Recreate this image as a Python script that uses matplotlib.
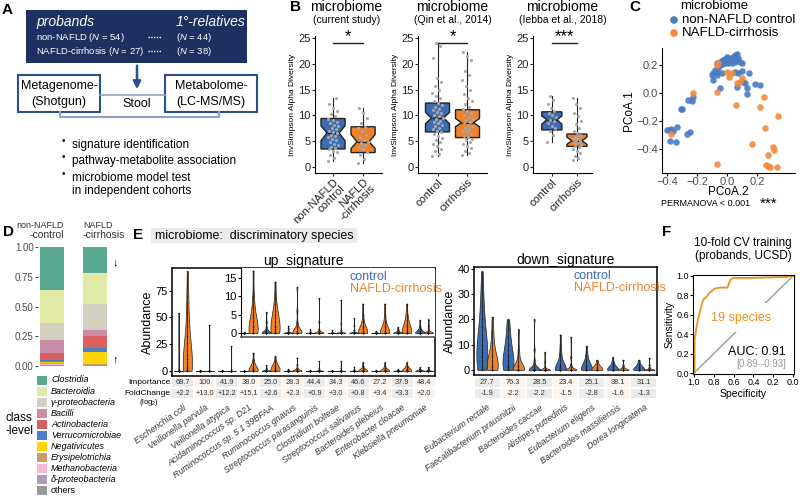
"""
Multi-panel microbiome figure (panels A-F)
"""

import numpy as np
import matplotlib
matplotlib.use("Agg")
import matplotlib.pyplot as plt
from matplotlib.patches import Rectangle

plt.rcParams["font.family"] = ["Liberation Sans", "DejaVu Sans"]
plt.rcParams["mathtext.fontset"] = "custom"
plt.rcParams["mathtext.rm"] = "Liberation Sans"
plt.rcParams["mathtext.it"] = "Liberation Sans:italic"

BLUE = "#3a6db5"
ORANGE = "#f0822a"
NAVY = "#1d3160"
GRID_BLUE = "#8fa2c5"

# ---------------- data ----------------
# A: cohort sizes
a_groups = ["non-NAFLD", "NAFLD-cirrhosis"]
a_proband_n = [54, 27]
a_relative_n = [44, 38]
a_bullets = ["signature identification", "pathway-metabolite association",
             "microbiome model test\nin independent cohorts"]

# B: alpha diversity box stats (q1, med, q3, whislo, whishi, notch lo, notch hi)
b_titles = ["(current study)", "(Qin et al., 2014)", "(Iebba et al., 2018)"]
b_xlabels = [["non-NAFLD\ncontrol", "NAFLD\n-cirrhosis"], ["control", "cirrhosis"], ["control", "cirrhosis"]]
b_sig = ["*", "*", "***"]
b_stats = [
    [(3.5, 6.6, 9.4, 1.2, 13.3, 5.1, 8.0), (2.8, 4.9, 7.8, 0.7, 11.4, 3.6, 6.3)],
    [(6.8, 9.5, 12.4, 2.2, 24.0, 8.4, 10.6), (5.7, 8.6, 11.1, 2.4, 22.3, 7.8, 9.4)],
    [(7.2, 9.2, 10.7, 4.9, 13.7, 8.3, 9.9), (4.0, 5.1, 6.4, 1.3, 13.3, 4.4, 5.8)],
]
b_points = [
    [[1.2, 1.8, 2.3, 2.9, 3.2, 3.5, 3.6, 3.9, 4.2, 4.5, 4.9, 5.2, 5.5, 5.8, 6.1, 6.3, 6.6,
      6.8, 7.0, 7.3, 7.6, 7.9, 8.2, 8.5, 8.8, 9.1, 9.4, 9.8, 10.3, 10.9, 11.5, 12.2, 13.3],
     [0.7, 1.5, 2.4, 3.0, 3.4, 3.9, 4.3, 4.6, 4.9, 5.3, 5.8, 6.2, 6.9, 7.5, 7.8, 8.6, 9.5,
      10.4, 11.4]],
    [[2.2, 2.6, 3.1, 3.5, 4.0, 4.4, 4.8, 5.2, 5.6, 6.0, 6.4, 6.8, 7.0, 7.3, 7.6, 7.9, 8.2,
      8.5, 8.8, 9.0, 9.3, 9.5, 9.8, 10.1, 10.4, 10.7, 11.0, 11.3, 11.7, 12.0, 12.4, 12.8,
      13.3, 13.8, 14.4, 15.0, 15.7, 16.4, 17.2, 21.2, 23.5, 24.0],
     [2.4, 2.8, 3.2, 3.6, 4.0, 4.4, 4.8, 5.2, 5.5, 5.8, 6.1, 6.4, 6.7, 7.0, 7.3, 7.6, 7.9,
      8.2, 8.5, 8.8, 9.1, 9.4, 9.7, 10.0, 10.4, 10.8, 11.2, 11.7, 12.2, 12.8, 13.4, 14.1,
      14.9, 15.8, 16.8, 17.8, 18.6, 20.8, 21.5, 22.3]],
    [[4.9, 6.2, 7.0, 7.5, 8.0, 8.5, 8.9, 9.2, 9.6, 10.0, 10.4, 10.8, 11.5, 12.3, 13.0, 13.7],
     [1.3, 1.8, 2.2, 2.7, 3.1, 3.5, 3.8, 4.1, 4.3, 4.6, 4.8, 5.0, 5.2, 5.4, 5.6, 5.9, 6.2,
      6.5, 7.0, 7.6, 8.3, 9.0, 9.8, 10.5, 11.4, 12.2, 13.3]],
]

# C: PCoA coordinates (PCoA.2, PCoA.1)
c_ctrl_pc2 = [-0.069, -0.047, -0.036, -0.024, -0.013, -0.002, 0.009, 0.020, 0.031, 0.042,
              0.053, 0.064, 0.076, 0.087, 0.098, 0.031, 0.009, -0.013, -0.024, -0.036,
              -0.002, 0.053, 0.064, -0.047, -0.058, -0.069, -0.080, -0.091, -0.102, -0.069,
              -0.036, 0.053, 0.076, 0.098, 0.149, 0.109, 0.120, 0.187, 0.220, -0.047, 0.064,
              0.131, 0.131, -0.096, -0.236, -0.258, -0.224, -0.298, -0.307, -0.402, -0.387,
              -0.373, -0.358, -0.336, -0.269, -0.247, -0.380, -0.342]
c_ctrl_pc1 = [0.212, 0.224, 0.231, 0.236, 0.240, 0.260, 0.248, 0.236, 0.248, 0.260,
              0.272, 0.279, 0.248, 0.224, 0.212, 0.212, 0.217, 0.217, 0.212, 0.207,
              0.231, 0.224, 0.236, 0.200, 0.176, 0.152, 0.164, 0.141, 0.129, 0.129,
              0.141, 0.152, 0.141, 0.160, 0.145, 0.081, 0.074, 0.064, 0.057, 0.033, 0.041,
              0.033, -0.007, 0.093, -0.057, -0.050, -0.031, -0.117, -0.114, -0.264, -0.264,
              -0.260, -0.269, -0.240, -0.293, -0.279, -0.341, -0.348]
c_cirr_pc2 = [-0.069, -0.058, -0.002, -0.069, 0.064, 0.087, 0.060, 0.220, 0.249, 0.338,
              0.253, 0.164, 0.309, 0.316, 0.271, -0.069, 0.258, 0.276, 0.287, 0.331,
              -0.224, -0.373, 0.031, 0.102, 0.013]
c_cirr_pc1 = [0.200, 0.217, 0.152, 0.010, 0.074, 0.081, -0.086, -0.097, -0.031, -0.164,
              -0.252, -0.367, -0.388, -0.407, -0.443, -0.507, -0.514, -0.521, -0.526, -0.531,
              -0.002, -0.293, 0.141, 0.105, 0.114]

# D: class-level composition (top to bottom in legend)
d_classes = ["Clostridia", "Bacteroidia", "γ-proteobacteria", "Bacilli", "Actinobacteria",
             "Verrucomicrobiae", "Negativicutes", "Erysipelotrichia", "Methanobacteria",
             "δ-proteobacteria", "others"]
d_colors = ["#5aa892", "#e2eba6", "#d3d0c0", "#c88ea5", "#d9605c", "#4a7fc6", "#ffd400",
            "#c99a6a", "#f5b9d6", "#b39bbd", "#999999"]
d_control = [0.36, 0.28, 0.14, 0.11, 0.06, 0.02, 0.005, 0.01, 0.005, 0.005, 0.005]
d_cirrhosis = [0.22, 0.26, 0.22, 0.05, 0.10, 0.03, 0.105, 0.005, 0.002, 0.003, 0.005]

# E: discriminatory species abundances
up_species = ["Escherichia coli", "Veillonella parvula", "Veillonella atypica",
              "Acidaminococcus sp. D21", "Ruminococcus sp. 5 1 39BFAA", "Ruminococcus gnavus",
              "Streptococcus parasanguinis", "Clostridium bolteae", "Streptococcus salivarius",
              "Bacteroides plebeius", "Enterobacter cloacae", "Klebsiella pneumoniae"]
up_importance = ["68.7", "100", "41.9", "38.0", "25.0", "28.3", "44.4", "34.3", "46.6",
                 "27.2", "37.9", "48.4"]
up_foldchange = ["+2.2", "+13.0", "+12.2", "+15.1", "+2.6", "+2.3", "+0.9", "+3.0", "+0.8",
                 "+3.4", "+3.3", "+2.0"]
up_ctrl = [
    [0, 0, 0, 0, 0, 0, 0, 0, 0, 0, 0.2, 0.5, 1.5, 54],
    [0, 0, 0, 0, 0, 0, 0, 0, 0, 0, 0, 0.1, 0.3, 0.6],
    [0, 0, 0, 0, 0, 0, 0, 0, 0, 0, 0, 0.1, 0.2, 0.5],
    [0, 0, 0, 0, 0, 0, 0, 0, 0, 0, 0, 0, 0.1, 0.3],
    [0, 0, 0, 0, 0, 0, 0, 0, 0.2, 0.4, 0.8, 1.5, 3, 5.7],
    [0, 0, 0, 0, 0, 0, 0, 0, 0, 0.1, 0.3, 0.8, 1.3, 2],
    [0, 0, 0, 0, 0, 0, 0, 0, 0, 0, 0.1, 0.2, 0.5, 1],
    [0, 0, 0, 0, 0, 0, 0, 0, 0, 0, 0.1, 0.2, 0.4, 0.8],
    [0, 0, 0, 0, 0, 0, 0, 0, 0, 0.1, 0.3, 0.8, 2, 4],
    [0, 0, 0, 0, 0, 0, 0, 0, 0, 0, 0.1, 0.2, 0.3, 0.5],
    [0, 0, 0, 0, 0, 0, 0, 0, 0.1, 0.2, 0.4, 0.7, 1, 1.6],
    [0, 0, 0, 0, 0, 0, 0, 0.1, 0.3, 0.5, 0.8, 1.2, 2, 3.5],
]
up_cirr = [
    [0, 0, 0.5, 1, 2, 3, 4, 6, 8, 11, 15, 20, 26, 33, 42, 55, 70, 93],
    [0, 0, 0, 0, 0, 0, 0, 0, 0, 0, 0.1, 0.3, 1, 43],
    [0, 0, 0, 0, 0, 0, 0, 0, 0, 0, 0.1, 0.5, 2, 23],
    [0, 0, 0, 0, 0.2, 0.5, 1, 1.5, 2, 3, 4, 5, 7, 10, 17],
    [0, 0, 0, 0.2, 0.5, 1, 1.5, 2, 3, 4, 5, 6, 8, 14],
    [0, 0, 0, 0, 0, 0, 0.1, 0.3, 0.6, 1, 1.5, 3, 6, 12.5],
    [0, 0, 0, 0, 0, 0, 0, 0, 0.1, 0.2, 0.5, 1, 3, 9.5],
    [0, 0, 0, 0, 0, 0, 0, 0, 0, 0.1, 0.3, 0.8, 2.5, 9],
    [0, 0, 0, 0, 0, 0.1, 0.3, 0.6, 1, 1.5, 2, 3, 5, 8],
    [0, 0, 0, 0, 0, 0.1, 0.3, 0.6, 1, 1.5, 2, 3, 5, 8],
    [0, 0, 0, 0, 0, 0.2, 0.5, 1, 1.5, 2, 2.5, 3.5, 5, 8],
    [0, 0, 0, 0, 0, 0, 0, 0, 0.1, 0.2, 0.5, 1, 2, 3.7],
]
down_species = ["Eubacterium rectale", "Faecalibacterium prausnitzii", "Bacteroides caccae",
                "Alistipes putredinis", "Eubacterium eligens", "Bacteroides massiliensis",
                "Dorea longicatena"]
down_importance = ["27.7", "76.3", "28.5", "23.4", "25.1", "38.1", "31.1"]
down_foldchange = ["-1.9", "-2.2", "-2.2", "-1.5", "-2.8", "-1.6", "-1.3"]
down_ctrl = [
    [0, 0.5, 1, 2, 3, 4, 5, 6, 7, 8, 10, 12, 14, 17, 20, 25, 30, 39],
    [0, 0.3, 0.6, 1, 1.5, 2, 3, 4, 5, 6, 8, 10, 13, 16, 20],
    [0, 0, 0, 0, 0, 0, 0, 0.1, 0.2, 0.5, 1, 2, 4, 8, 20],
    [0, 0, 0, 0, 0, 0.1, 0.3, 0.6, 1, 1.5, 2.5, 4, 6, 9, 14],
    [0, 0, 0, 0, 0.1, 0.3, 0.6, 1, 1.5, 2, 3, 4, 6, 9.5],
    [0, 0, 0, 0, 0, 0.1, 0.3, 0.6, 1, 1.5, 2, 3, 5],
    [0, 0, 0, 0, 0.1, 0.3, 0.5, 0.8, 1, 1.3, 1.8, 2.5, 4],
]
down_cirr = [
    [0, 0, 0, 0.2, 0.5, 1, 1.5, 2, 3, 4, 5, 6, 8, 11, 15, 21],
    [0, 0, 0, 0, 0, 0.2, 0.5, 1, 1.5, 2, 3, 5, 8, 16],
    [0, 0, 0, 0, 0, 0, 0, 0, 0.1, 0.3, 0.6, 1, 3, 7],
    [0, 0, 0, 0, 0, 0, 0, 0.1, 0.2, 0.5, 1, 2, 5, 13],
    [0, 0, 0, 0, 0.1, 0.3, 0.5, 0.8, 1, 1.3, 1.8, 2.5, 4],
    [0, 0, 0, 0, 0, 0, 0, 0.1, 0.3, 0.6, 1, 2, 4],
    [0, 0, 0, 0, 0, 0, 0, 0, 0.1, 0.2, 0.5, 1, 2, 4.8],
]

# F: ROC curve
f_specificity = [1.0, 0.994, 0.994, 0.974, 0.952, 0.926, 0.903, 0.871, 0.839, 0.79, 0.742,
                 0.661, 0.645, 0.623, 0.597, 0.403, 0.081, 0.0]
f_sensitivity = [0.0, 0.0, 0.34, 0.48, 0.58, 0.69, 0.76, 0.79, 0.83, 0.87, 0.88,
                 0.88, 0.93, 0.97, 0.98, 0.98, 0.99, 1.0]

# ---------------- layout helpers ----------------
W, H = 800, 504
fig = plt.figure(figsize=(W / 100, H / 100), dpi=100)


def px_axes(x0, y0, x1, y1):
    """Axes placed by pixel box (top-left origin)"""
    ax = fig.add_axes([x0 / W, 1 - y1 / H, (x1 - x0) / W, (y1 - y0) / H])
    ax.patch.set_alpha(0)
    return ax


# overlay in pixel coordinates, drawn above all panels
ov = fig.add_axes([0, 0, 1, 1])
ov.set_xlim(0, W)
ov.set_ylim(H, 0)
ov.axis("off")
ov.set_zorder(10)

for letter, x, y in [("A", 2, 10), ("B", 290, 7), ("C", 629, 7), ("D", 3, 232),
                     ("E", 133, 235), ("F", 662, 232)]:
    ov.text(x, y, letter, fontsize=11, fontweight="bold", va="center")

# ---------------- A ----------------
ov.add_patch(Rectangle((26, 10), 221, 53, facecolor=NAVY, edgecolor="none"))
ov.text(36, 22, "probands", color="white", style="italic", fontsize=10, va="center")
ov.text(176, 22, "1°-relatives", color="white", style="italic", fontsize=10, va="center")
for y, grp, n1, n2 in zip([37, 51], a_groups, a_proband_n, a_relative_n):
    ov.text(36, y, f"{grp} ($N$ = {n1})", color="white", fontsize=6.8, va="center")
    ov.plot([148, 161], [y, y], ls=(0, (1, 1)), color="white", lw=1)
    ov.text(176, y, f"($N$ = {n2})", color="white", fontsize=6.8, va="center")
ov.annotate("", xy=(137, 92), xytext=(137, 63),
            arrowprops=dict(arrowstyle="-|>", color="#2b4f91", lw=1.8, mutation_scale=11))
ov.plot([100, 165], [95, 95], color=GRID_BLUE, lw=1.2)
ov.plot([60, 60, 219, 219], [112, 117, 117, 112], color=GRID_BLUE, lw=1.5)
for x0, x1, l1, l2 in [(18, 100, "Metagenome-", "(Shotgun)"), (165, 257, "Metabolome-", "(LC-MS/MS)")]:
    ov.add_patch(Rectangle((x0, 75), x1 - x0, 37, facecolor="white", edgecolor="#2b4f91", lw=1.5))
    ov.text((x0 + x1) / 2, 86, l1, fontsize=9, ha="center", va="center")
    ov.text((x0 + x1) / 2, 102, l2, fontsize=9, ha="center", va="center")
ov.text(137, 104, "Stool", fontsize=9, ha="center", va="center")
for y, txt in zip([141, 157, 174], a_bullets):
    ov.text(62, y, "•", fontsize=7, va="center")
    ov.text(72, y - 2, txt, fontsize=8.5, va="top", linespacing=1.1)

# ---------------- B ----------------
b_boxes = [(315, 382), (418, 487), (533, 592)]
b_xlims = [(0.4, 2.63), (0.35, 2.65), (0.25, 2.6)]
for i, ((x0, x1), stats, pts) in enumerate(zip(b_boxes, b_stats, b_points)):
    ax = px_axes(x0, 36, x1, 173)
    bstats = [dict(q1=s[0], med=s[1], q3=s[2], whislo=s[3], whishi=s[4], cilo=s[5],
                   cihi=s[6], fliers=[]) for s in stats]
    res = ax.bxp(bstats, positions=[1, 2], widths=0.8, shownotches=True, showcaps=False,
                 showfliers=False, patch_artist=True,
                 medianprops=dict(color="#222222", lw=1),
                 whiskerprops=dict(color="#222222", lw=0.8),
                 boxprops=dict(edgecolor="#222222", lw=1))
    for patch, col in zip(res["boxes"], [BLUE, ORANGE]):
        patch.set_facecolor(col)
    for k, vals in enumerate(pts):
        n = len(vals)
        offs = ((np.arange(n) * 0.618) % 1 - 0.5) * 0.35
        ax.scatter(k + 1 + offs, vals, s=5, color="#a8a8a8", lw=0, zorder=3)
    ax.plot([1, 2], [24.0, 24.0], color="#222222", lw=1, clip_on=False)
    ax.text(1.5, 23.8, b_sig[i], ha="center", va="bottom", fontsize=12, clip_on=False)
    ax.set_xlim(*b_xlims[i])
    ax.set_ylim(-1.16, 25.4)
    ax.set_yticks([0, 5, 10, 15, 20, 25])
    ax.set_xticks([1, 2])
    ax.set_xticklabels(b_xlabels[i], rotation=45, ha="right", rotation_mode="anchor",
                       fontsize=8, linespacing=0.9)
    ax.tick_params(labelsize=8, length=2, pad=1, colors="#222222")
    ax.set_ylabel("InvSimpson Alpha Diversity", fontsize=6, labelpad=2)
    for sp in ["top", "right"]:
        ax.spines[sp].set_visible(False)
    cx = (x0 + x1) / 2 + (0 if i else -2)
    ov.text(cx, 7, "microbiome", fontsize=10, ha="center", va="center")
    ov.text(cx, 20, b_titles[i], fontsize=7.5, ha="center", va="center")

# ---------------- C ----------------
ax = px_axes(662, 48, 795, 173)
ax.scatter(c_ctrl_pc2, c_ctrl_pc1, s=22, color="#4a7bc3", alpha=0.9, lw=0)
ax.scatter(c_cirr_pc2, c_cirr_pc1, s=22, color="#f28a3c", alpha=0.9, lw=0)
ax.set_xlim(-0.433, 0.453)
ax.set_ylim(-0.571, 0.321)
ax.set_xticks([-0.4, -0.2, 0.0, 0.2])
ax.set_yticks([-0.4, -0.2, 0.0, 0.2])
ax.set_xticklabels(["−0.4", "−0.2", "0.0", "0.2"])
ax.set_yticklabels(["−0.4", "−0.2", "0.0", "0.2"])
ax.tick_params(labelsize=8, length=2, pad=1, labelcolor="#4d4d4d")
ax.set_xlabel("PCoA.2", fontsize=8.5, labelpad=-1)
ax.set_ylabel("PCoA.1", fontsize=8.5, labelpad=1)
for sp in ["top", "right"]:
    ax.spines[sp].set_visible(False)
ov.text(680, 6, "microbiome", fontsize=9.5, va="center")
ov.scatter([674, 674], [20, 33], s=30, color=["#4a7bc3", "#f28a3c"], lw=0)
ov.text(682, 20, "non-NAFLD control", fontsize=9.5, va="center")
ov.text(682, 33, "NAFLD-cirrhosis", fontsize=9.5, va="center")
ov.text(661, 203, "PERMANOVA < 0.001", fontsize=6.5, va="center")
ov.text(769, 204, "***", fontsize=11, va="center", ha="center")

# ---------------- D ----------------
ax = px_axes(38, 245, 112, 367)
bottom_c, bottom_k = 0.0, 0.0
for cls, col, vc, vk in reversed(list(zip(d_classes, d_colors, d_control, d_cirrhosis))):
    ax.bar([1, 2], [vc, vk], bottom=[bottom_c, bottom_k], width=0.56, color=col, lw=0)
    bottom_c += vc
    bottom_k += vk
ax.set_xlim(0.674, 2.395)
ax.set_ylim(-0.008, 1.017)
ax.set_yticks([0, 0.25, 0.5, 0.75, 1.0])
ax.set_yticklabels(["0.00", "0.25", "0.50", "0.75", "1.00"])
ax.set_xticks([])
ax.tick_params(labelsize=7, length=2, pad=1, labelcolor="#4d4d4d", color="#4d4d4d")
for sp in ax.spines.values():
    sp.set_visible(False)
ov.text(64, 226, "non-NAFLD", fontsize=6.5, ha="right", va="center", color="#333333")
ov.text(64, 235, "-control", fontsize=7.5, ha="right", va="center", color="#333333")
ov.text(83, 226, "NAFLD", fontsize=6.5, ha="left", va="center", color="#333333")
ov.text(83, 235, "-cirrhosis", fontsize=7.5, ha="left", va="center", color="#333333")
ov.text(115, 262, "↓", fontsize=8, ha="center", va="center")
ov.text(115, 359, "↑", fontsize=8, ha="center", va="center")
for k, (cls, col) in enumerate(zip(d_classes, d_colors)):
    y = 380 + k * 11.07
    ov.add_patch(Rectangle((37, y - 4.5), 10, 9, facecolor=col, edgecolor="none"))
    ov.text(51, y, cls, fontsize=6.5, va="center",
            style="normal" if cls == "others" else "italic")
ov.text(5, 418, "class", fontsize=8.5, va="center")
ov.text(5, 431, "-level", fontsize=8.5, va="center")

# ---------------- E ----------------
ov.add_patch(Rectangle((151, 228), 206, 15, facecolor="#ebebeb", edgecolor="none"))
ov.text(155, 235.5, "microbiome:  discriminatory species", fontsize=9, va="center")


def nrd0_factor(kde):
    """Smoothed Silverman-style bandwidth, returned as a factor of the sd"""
    x = np.ravel(kde.dataset)
    sd = x.std(ddof=1)
    iqr = np.subtract(*np.percentile(x, [75, 25]))
    lo = min(sd, iqr / 1.34) if iqr > 0 else 0.1 * sd
    return 1.6 * 0.9 * lo * len(x) ** -0.2 / sd


def draw_violins(ax, ctrl, cirr):
    """Paired violins with a column of points for each group"""
    pos = np.arange(1, len(ctrl) + 1)
    for data, off, col in ((ctrl, -0.2, BLUE), (cirr, 0.2, ORANGE)):
        parts = ax.violinplot(data, positions=pos + off, widths=0.42, showextrema=False,
                              bw_method=nrd0_factor, points=200)
        for body in parts["bodies"]:
            body.set_facecolor(col)
            body.set_edgecolor("#222222")
            body.set_linewidth(0.5)
            body.set_alpha(1)
        for p, d in zip(pos + off, data):
            ax.vlines(p, min(d), max(d), color="#222222", lw=0.7, alpha=0.85)
            ax.scatter(np.full(len(d), p), d, s=1.5, color="black", lw=0, alpha=0.5)


def draw_table(x0, x1, importance, foldchange, names):
    tab = px_axes(x0, 377, x1, 399)
    n = len(importance)
    tab.set_xlim(0.5, n + 0.5)
    tab.set_ylim(2, 0)
    for k in range(n):
        col = "#ebebeb" if k % 2 == 0 else "#fcf4ef"
        for r, txt in enumerate([importance[k], foldchange[k]]):
            tab.add_patch(Rectangle((k + 0.52, r + 0.05), 0.96, 0.9, facecolor=col, lw=0))
            tab.text(k + 1, r + 0.5, txt, fontsize=5.3, ha="center", va="center",
                     color="#333333")
    tab.set_xticks(np.arange(1, n + 1))
    tab.set_xticklabels(names, rotation=35, ha="right", rotation_mode="anchor",
                        fontsize=6.3, style="italic", color="#333333")
    tab.set_yticks([])
    tab.tick_params(length=0, pad=3)
    for sp in tab.spines.values():
        sp.set_visible(False)
    return tab


# up signature
ax = px_axes(172, 268, 435, 376)
draw_violins(ax, up_ctrl, up_cirr)
ax.set_xlim(0.5, 12.5)
ax.set_ylim(-4.7, 96)
ax.set_yticks([0, 25, 50, 75])
ax.set_xticks([])
ax.tick_params(labelsize=8, length=2, pad=1)
ax.set_ylabel("Abundance", fontsize=9, labelpad=1)
ax.set_title("up_signature", fontsize=10, pad=2)
for sp in ax.spines.values():
    sp.set_linewidth(1.1)

ins = px_axes(241, 268, 435, 337)
ins.patch.set_alpha(1)
ins.set_facecolor("white")
draw_violins(ins, up_ctrl, up_cirr)
ins.set_xlim(0.5 + 69 / 21.917, 12.5)
ins.set_ylim(-1.09, 17.7)
ins.set_yticks([0, 5, 10, 15])
ins.set_xticks([])
ins.tick_params(labelsize=8, length=2, pad=1)
for sp in ["top", "right"]:
    ins.spines[sp].set_visible(False)
ins.spines["bottom"].set_color("#555555")
ins.spines["bottom"].set_linewidth(1.2)
ov.text(350, 277, "control", color=BLUE, fontsize=9, va="center")
ov.text(350, 289, "NAFLD-cirrhosis", color=ORANGE, fontsize=9, va="center")

tab = draw_table(172, 435, up_importance, up_foldchange, up_species)
tab.text(0.42, 0.5, "Importance", fontsize=6, ha="right", va="center")
tab.text(0.42, 1.5, "FoldChange", fontsize=6, ha="right", va="center")
tab.text(-0.55, 2.35, "(log$_2$)", fontsize=5.5, ha="center", va="center")

# down signature
ax = px_axes(474, 267, 657, 375)
draw_violins(ax, down_ctrl, down_cirr)
ax.set_xlim(0.5, 7.5)
ax.set_ylim(-2, 40.7)
ax.set_yticks([0, 10, 20, 30, 40])
ax.set_xticks([])
ax.tick_params(labelsize=8, length=2, pad=1)
ax.set_ylabel("Abundance", fontsize=9, labelpad=1)
ax.set_title("down_signature", fontsize=10, pad=2)
for sp in ax.spines.values():
    sp.set_linewidth(1.1)
ov.text(574, 276, "control", color=BLUE, fontsize=9, va="center")
ov.text(574, 288, "NAFLD-cirrhosis", color=ORANGE, fontsize=9, va="center")
draw_table(474, 657, down_importance, down_foldchange, down_species)

# ---------------- F ----------------
ax = px_axes(693, 275, 794, 374)
ax.plot([1, 0], [0, 1], color="#9a9a9a", lw=1)
ax.plot(f_specificity, f_sensitivity, color="#f0901e", lw=1.3)
ax.set_xlim(1.01, -0.01)
ax.set_ylim(-0.01, 1.01)
ax.set_xticks([1.0, 0.8, 0.6, 0.4, 0.2, 0.0])
ax.set_yticks([0.0, 0.2, 0.4, 0.6, 0.8, 1.0])
ax.tick_params(labelsize=6.5, length=2, pad=1)
ax.set_xlabel("Specificity", fontsize=7.5, labelpad=1)
ax.set_ylabel("Sensitivity", fontsize=7.5, labelpad=1)
ax.text(0.52, 0.57, "19 species", color="#f0901e", fontsize=9, ha="center", va="center",
        bbox=dict(facecolor="white", edgecolor="none", pad=6))
ax.text(0.07, 0.22, "AUC: 0.91", fontsize=9, ha="right", va="center")
ax.text(0.07, 0.09, "[0.89--0.93]", fontsize=7, ha="right", va="center", color="#999999")
ov.text(743, 243, "10-fold CV training", fontsize=8.5, ha="center", va="center")
ov.text(743, 256, "(probands, UCSD)", fontsize=8.5, ha="center", va="center")

fig.savefig("out.png", dpi=100)
